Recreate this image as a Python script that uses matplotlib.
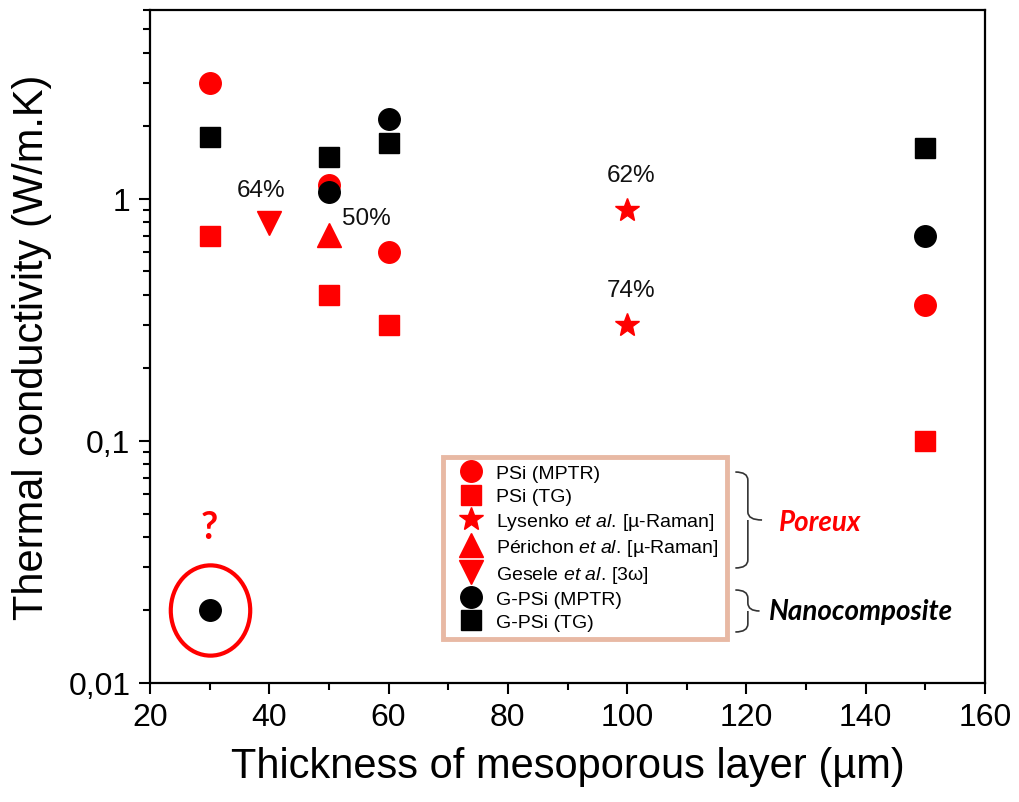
import matplotlib
matplotlib.use("Agg")
import matplotlib.pyplot as plt
from matplotlib.path import Path
from matplotlib.patches import PathPatch
from matplotlib.transforms import Affine2D
from matplotlib.ticker import FixedLocator, LogLocator, FuncFormatter, NullFormatter

# ---- data ------------------------------------------------------------- #
psi_mptr_x = [30, 50, 60, 150]
psi_mptr_y = [3.0, 1.14, 0.60, 0.365]
psi_tg_x = [30, 50, 60, 150]
psi_tg_y = [0.70, 0.40, 0.30, 0.10]
lysenko_x = [100, 100]
lysenko_y = [0.90, 0.30]
lysenko_lbl = ["62%", "74%"]
perichon_x = [50]
perichon_y = [0.71]
perichon_lbl = ["50%"]
gesele_x = [40]
gesele_y = [0.79]
gesele_lbl = ["64%"]
gpsi_mptr_x = [30, 50, 60, 150]
gpsi_mptr_y = [0.020, 1.06, 2.12, 0.70]
gpsi_tg_x = [30, 50, 60, 150]
gpsi_tg_y = [1.80, 1.49, 1.70, 1.61]

RED = "#ff0000"
BLK = "#000000"

plt.rcParams.update({
    "font.family": ["Liberation Sans", "DejaVu Sans"],
    "mathtext.fontset": "custom",
    "mathtext.rm": "Liberation Sans",
    "mathtext.it": "Liberation Sans:italic",
})

fig = plt.figure(figsize=(10.19, 8.03), dpi=100)
ax = fig.add_axes([150 / 1019, 1 - 684 / 803, 835 / 1019, 673 / 803])

h1, = ax.plot(psi_mptr_x, psi_mptr_y, "o", color=RED, ms=15.5, ls="none", label="PSi (MPTR)")
h2, = ax.plot(psi_tg_x, psi_tg_y, "s", color=RED, ms=14.5, ls="none", label="PSi (TG)")
h3, = ax.plot(lysenko_x, lysenko_y, "*", color=RED, ms=18, ls="none",
              label="Lysenko $\\mathit{et\\ al.}\\,$[µ-Raman]")
h4, = ax.plot(perichon_x, perichon_y, "^", color=RED, ms=17, ls="none",
              label="Périchon $\\mathit{et\\ al.}\\,$[µ-Raman]")
h5, = ax.plot(gesele_x, gesele_y, "v", color=RED, ms=17, ls="none",
              label="Gesele $\\mathit{et\\ al.}\\,$[3ω]")
h6, = ax.plot(gpsi_mptr_x, gpsi_mptr_y, "o", color=BLK, ms=15.5, ls="none", label="G-PSi (MPTR)")
h7, = ax.plot(gpsi_tg_x, gpsi_tg_y, "s", color=BLK, ms=14.5, ls="none", label="G-PSi (TG)")

# porosity labels
for xs, ys, lbls, off in [(gesele_x, gesele_y, gesele_lbl, (-6, 24)),
                          (perichon_x, perichon_y, perichon_lbl, (27, 12)),
                          (lysenko_x, lysenko_y, lysenko_lbl, (3, 25))]:
    for xv, yv, t in zip(xs, ys, lbls):
        ax.annotate(t, (xv, yv), xytext=off, textcoords="offset points",
                    ha="center", va="center", fontsize=17.5, color="#111111")

# circled outlier with question mark
ellipse = Path.unit_circle().transformed(Affine2D().scale(0.88, 1.0))
ax.plot(gpsi_mptr_x[:1], gpsi_mptr_y[:1], marker=ellipse, ms=65, mfc="none",
        mec=RED, mew=3, ls="none")
ax.annotate("?", (gpsi_mptr_x[0], gpsi_mptr_y[0]), xytext=(0, 60),
            textcoords="offset points", ha="center", va="center",
            fontsize=27, fontweight="bold", color=RED,
            family=["Lato", "DejaVu Sans"])

ax.set_xlim(20, 160)
ax.set_ylim(0.01, 6)
ax.set_yscale("log")
ax.xaxis.set_major_locator(FixedLocator(list(range(20, 161, 20))))
ax.xaxis.set_minor_locator(FixedLocator(list(range(30, 160, 20))))
ax.yaxis.set_major_locator(FixedLocator([0.01, 0.1, 1]))
ax.yaxis.set_minor_locator(LogLocator(base=10, subs=range(2, 10)))
ax.yaxis.set_major_formatter(FuncFormatter(lambda v, p: f"{v:g}".replace(".", ",")))
ax.yaxis.set_minor_formatter(NullFormatter())
ax.tick_params(which="both", direction="out", width=1.5, labelsize=23,
               top=False, right=False)
ax.tick_params(which="major", length=8, pad=6)
ax.tick_params(which="minor", length=5)
for sp in ax.spines.values():
    sp.set_linewidth(1.6)

ax.set_xlabel("Thickness of mesoporous layer (µm)", fontsize=30, labelpad=10)
ax.set_ylabel("Thermal conductivity (W/m.K)", fontsize=30, labelpad=12)

leg = ax.legend(handles=[h1, h2, h3, h4, h5, h6, h7], loc="upper left",
                bbox_to_anchor=(0.351, 0.0654, 0.340, 0.2706), mode="expand",
                fontsize=14, labelspacing=0.28, borderpad=0.4,
                handlelength=2.1, handletextpad=0.2, borderaxespad=0,
                fancybox=False, framealpha=1, numpoints=1)
leg.get_frame().set_edgecolor("#e8b9a4")
leg.get_frame().set_linewidth(3.5)


def brace(ax, x_tip, x_spine, x_point, y_top, y_mid, y_bot, r=0.012):
    codes = [Path.MOVETO, Path.CURVE3, Path.CURVE3,
             Path.LINETO, Path.CURVE3, Path.LINETO,
             Path.MOVETO, Path.LINETO,
             Path.LINETO, Path.CURVE3, Path.CURVE3]
    verts = [(x_tip, y_top), (x_spine, y_top), (x_spine, y_top - r),
             (x_spine, y_mid + r), (x_spine, y_mid), (x_point, y_mid),
             (x_spine, y_mid), (x_spine, y_mid - r),
             (x_spine, y_bot + r), (x_spine, y_bot), (x_tip, y_bot)]
    ax.add_patch(PathPatch(Path(verts, codes), transform=ax.transAxes,
                           fill=False, lw=1.2, edgecolor="#333333", clip_on=False))


brace(ax, 0.701, 0.716, 0.733, 0.3135, 0.2422, 0.1709)
brace(ax, 0.701, 0.716, 0.730, 0.1382, 0.1070, 0.0758)

ax.text(0.802, 0.239, "Poreux", transform=ax.transAxes, ha="center", va="center",
        fontsize=20, fontweight="bold", fontstyle="italic", color=RED,
        family=["Lato", "DejaVu Sans"])
ax.text(0.8515, 0.107, "Nanocomposite", transform=ax.transAxes, ha="center",
        va="center", fontsize=20, fontweight="bold", fontstyle="italic",
        color=BLK, family=["Lato", "DejaVu Sans"])

fig.savefig("out.png", dpi=100)
